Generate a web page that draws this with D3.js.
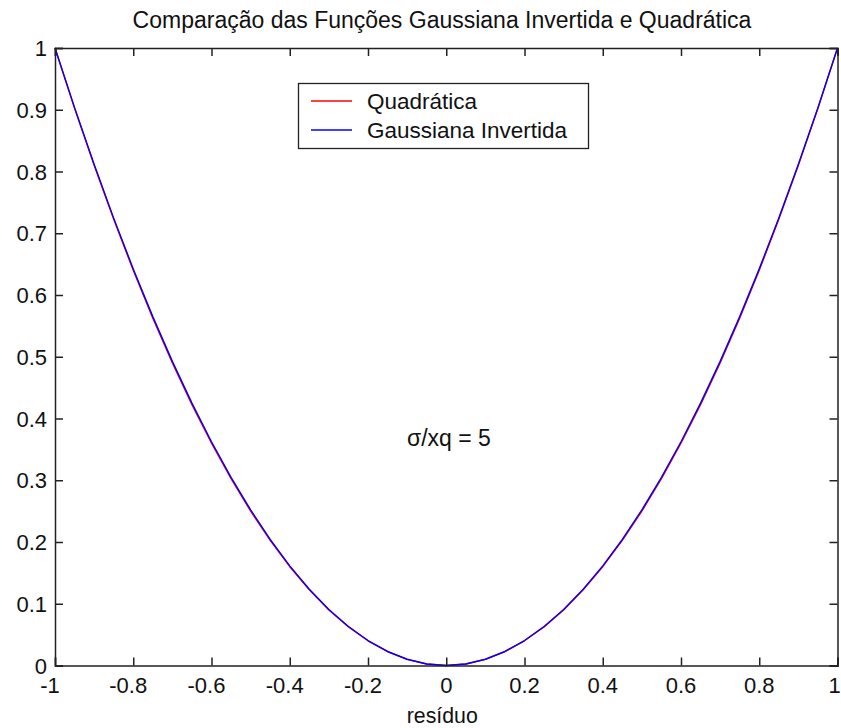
<!DOCTYPE html>
<html>
<head>
<meta charset="utf-8">
<script src="https://cdn.jsdelivr.net/npm/d3@7"></script>
<style>
  html, body { margin: 0; padding: 0; background: #fff; }
  svg { display: block; font-family: "Liberation Sans", Arial, sans-serif; }
</style>
</head>
<body>
<svg id="chart" width="841" height="728"></svg>
<script>
// ---- data ----
const xValues = [-1, -0.95, -0.9, -0.85, -0.8, -0.75, -0.7, -0.65, -0.6, -0.55, -0.5, -0.45, -0.4, -0.35, -0.3, -0.25, -0.2, -0.15, -0.1, -0.05, 0,
                 0.05, 0.1, 0.15, 0.2, 0.25, 0.3, 0.35, 0.4, 0.45, 0.5, 0.55, 0.6, 0.65, 0.7, 0.75, 0.8, 0.85, 0.9, 0.95, 1];
const quadratica = [1, 0.9025, 0.81, 0.7225, 0.64, 0.5625, 0.49, 0.4225, 0.36, 0.3025, 0.25, 0.2025, 0.16, 0.1225, 0.09, 0.0625, 0.04, 0.0225, 0.01, 0.0025, 0,
                    0.0025, 0.01, 0.0225, 0.04, 0.0625, 0.09, 0.1225, 0.16, 0.2025, 0.25, 0.3025, 0.36, 0.4225, 0.49, 0.5625, 0.64, 0.7225, 0.81, 0.9025, 1];
const gaussianaInvertida = [1, 0.9034, 0.8116, 0.7245, 0.6423, 0.5650, 0.4925, 0.4249, 0.3623, 0.3046, 0.2519, 0.2041, 0.1614, 0.1236, 0.0908, 0.0631, 0.0404, 0.0227, 0.0101, 0.0025, 0,
                            0.0025, 0.0101, 0.0227, 0.0404, 0.0631, 0.0908, 0.1236, 0.1614, 0.2041, 0.2519, 0.3046, 0.3623, 0.4249, 0.4925, 0.5650, 0.6423, 0.7245, 0.8116, 0.9034, 1];
const xTicks = [-1, -0.8, -0.6, -0.4, -0.2, 0, 0.2, 0.4, 0.6, 0.8, 1];
const xTickLabels = ["-1", "-0.8", "-0.6", "-0.4", "-0.2", "0", "0.2", "0.4", "0.6", "0.8", "1"];
const yTicks = [0, 0.1, 0.2, 0.3, 0.4, 0.5, 0.6, 0.7, 0.8, 0.9, 1];
const yTickLabels = ["0", "0.1", "0.2", "0.3", "0.4", "0.5", "0.6", "0.7", "0.8", "0.9", "1"];
const seriesNames = ["Quadrática", "Gaussiana Invertida"];
const seriesColors = ["#ff0000", "#0000ff"];
const titleText = "Comparação das Funções Gaussiana Invertida e Quadrática";
const xLabelText = "resíduo";
const annotationText = "σ/xq = 5";

// ---- layout ----
const svg = d3.select("#chart");
const L = 55, R = 837.5, T = 48, B = 665.5;
const x = d3.scaleLinear().domain([-1, 1]).range([L, R]);
const y = d3.scaleLinear().domain([0, 1]).range([B, T]);
const tickLen = 8;
const axisColor = "#222";
const tickFont = 22;

// curves
const line = d3.line().x((d, i) => x(xValues[i])).y(d => y(d));
[quadratica, gaussianaInvertida].forEach((s, k) => {
  svg.append("path").datum(s)
    .attr("d", line)
    .attr("fill", "none")
    .attr("stroke", seriesColors[k])
    .attr("stroke-width", 1.4)
    .attr("stroke-linejoin", "round");
});

// axes box with inward ticks
const g = svg.append("g");
const axB = d3.axisBottom(x).tickValues(xTicks).tickSize(-tickLen).tickFormat("");
const axT = d3.axisTop(x).tickValues(xTicks).tickSize(-tickLen).tickFormat("");
const axL = d3.axisLeft(y).tickValues(yTicks).tickSize(-tickLen).tickFormat("");
const axR = d3.axisRight(y).tickValues(yTicks).tickSize(-tickLen).tickFormat("");
g.append("g").attr("transform", `translate(0,${B})`).call(axB);
g.append("g").attr("transform", `translate(0,${T})`).call(axT);
g.append("g").attr("transform", `translate(${L},0)`).call(axL);
g.append("g").attr("transform", `translate(${R},0)`).call(axR);
g.selectAll(".domain").attr("stroke", axisColor).attr("stroke-width", 1.5);
g.selectAll(".tick line").attr("stroke", axisColor).attr("stroke-width", 1.5);

// tick labels
svg.append("g").selectAll("text").data(xTicks).join("text")
  .attr("x", (d, i) => x(d) - (xTickLabels[i].startsWith("-") ? 5 : 0) - (d === 1 ? 3 : 0))
  .attr("y", 693)
  .attr("text-anchor", "middle")
  .attr("font-size", tickFont)
  .attr("fill", "#111")
  .text((d, i) => xTickLabels[i]);

svg.append("g").selectAll("text").data(yTicks).join("text")
  .attr("x", 47)
  .attr("y", d => y(d) + 8)
  .attr("text-anchor", "end")
  .attr("font-size", tickFont)
  .attr("fill", "#111")
  .text((d, i) => yTickLabels[i]);

// title and axis label
svg.append("text").attr("x", 442).attr("y", 28)
  .attr("text-anchor", "middle").attr("font-size", 23).attr("fill", "#111")
  .text(titleText);
svg.append("text").attr("x", (L + R) / 2 - 4).attr("y", 723)
  .attr("text-anchor", "middle").attr("font-size", 21.3).attr("fill", "#111")
  .text(xLabelText);

// annotation
svg.append("text").attr("x", 407).attr("y", 446)
  .attr("font-size", 23).attr("fill", "#111")
  .text(annotationText);

// legend
const lg = svg.append("g");
lg.append("rect").attr("x", 298.5).attr("y", 83.5).attr("width", 290).attr("height", 65)
  .attr("fill", "#fff").attr("stroke", axisColor).attr("stroke-width", 1.3);
seriesNames.forEach((n, k) => {
  const yy = 101 + k * 29;
  lg.append("line").attr("x1", 311).attr("x2", 352).attr("y1", yy).attr("y2", yy)
    .attr("stroke", seriesColors[k]).attr("stroke-width", 1.4);
  lg.append("text").attr("x", 367).attr("y", yy + 8).attr("font-size", 22.5).attr("fill", "#111").text(n);
});
</script>
</body>
</html>
